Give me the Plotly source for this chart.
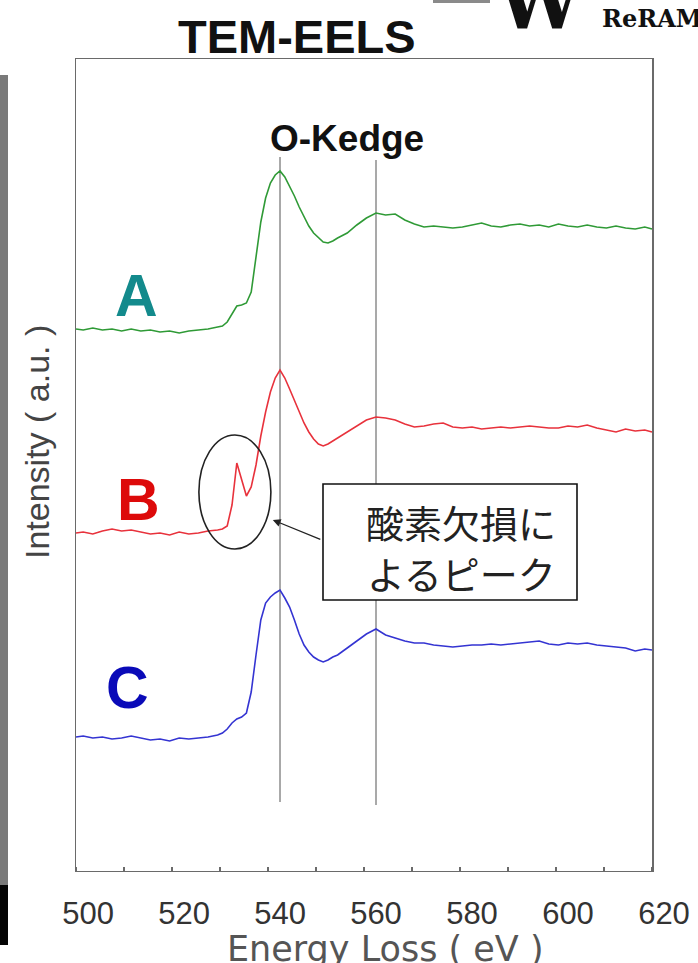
import plotly.graph_objects as go

# ---- spectra (energy loss in eV, intensity in arbitrary units, stacked) ----
energy = [497.5, 499, 501, 503, 505, 507, 509, 511, 513, 515, 517, 519, 521, 523, 525, 527,
          528, 529, 530, 531, 532, 533, 534, 535, 536, 537, 538, 539, 540, 541, 542, 543,
          544, 545, 546, 547, 548, 549, 550, 551, 552,
          554, 556, 558, 560, 562, 564, 566, 568, 570, 572, 574, 576, 578, 580, 582, 584,
          586, 588, 590, 592, 594, 596, 598, 600, 602, 604, 606, 608, 610, 612, 614, 616, 617.5]

intensity_a = [543, 542, 544, 542, 543, 541, 543, 541, 542, 540, 541, 539, 541, 542, 543, 545,
               546, 550, 558, 566, 567, 569, 580, 617, 650, 674, 689, 697, 701, 695, 686, 676,
               665, 655, 646, 639, 634, 630, 629, 631, 634,
               639, 647, 654, 659, 657, 658, 652, 648, 645, 646, 645, 644, 645, 647, 649, 646,
               645, 647, 648, 646, 647, 645, 648, 646, 645, 647, 645, 644, 646, 644, 643, 645, 643]

intensity_b = [339, 340, 338, 341, 343, 341, 342, 340, 338, 339, 337, 340, 338, 339, 341, 342,
               343, 346, 367, 409, 393, 376, 385, 407, 436, 460, 480, 494, 502, 494, 483, 471,
               460, 449, 440, 433, 428, 426, 428, 431, 434,
               440, 446, 452, 455, 454, 452, 448, 445, 446, 448, 449, 445, 444, 445, 443, 444,
               445, 444, 445, 446, 445, 444, 444, 446, 445, 447, 444, 442, 440, 443, 441, 442, 440]

intensity_c = [135, 136, 134, 135, 133, 134, 136, 134, 132, 133, 131, 134, 133, 134, 135, 137,
               139, 143, 149, 153, 155, 159, 180, 217, 252, 269, 275, 279, 282, 274, 265, 252,
               238, 227, 220, 215, 212, 210, 212, 215, 217,
               224, 231, 238, 243, 237, 234, 231, 229, 229, 227, 226, 225, 226, 227, 227, 228,
               227, 228, 229, 230, 231, 228, 227, 229, 228, 229, 227, 226, 225, 224, 221, 223, 222]

sample_names = ["A", "B", "C"]
sample_colors = ["#2f9a36", "#e8323c", "#3434d2"]
label_colors = ["#138a8c", "#dd0a0a", "#0a0ab8"]
label_pos = [(510.2, 576), (510.6, 372), (508.3, 184)]   # (eV, a.u.) of the sample letters

edge_lines = [540, 560]          # O K-edge features
edge_line_span = [(70, 715), (67, 712)]

tick_labels = [500, 520, 540, 560, 580, 600, 620]

callout_lines = ["酸素欠損に", "よるピーク"]

W, H = 698, 963
E_MIN, E_FRAME, E_MAX = 497.29, 617.71, 620.0   # left frame edge, right frame edge, scale end
I_MAX = 814


def px(x):
    return x / W


def py(y):
    return 1 - y / H


fig = go.Figure()

for name, ys, col in zip(sample_names, [intensity_a, intensity_b, intensity_c], sample_colors):
    fig.add_trace(go.Scatter(x=energy, y=ys, mode="lines", name=name,
                             line=dict(color=col, width=1.6), showlegend=False,
                             hoverinfo="skip"))

shapes = []
for e, (y0, y1) in zip(edge_lines, edge_line_span):
    shapes.append(dict(type="line", xref="x", yref="y", x0=e, x1=e, y0=y0, y1=y1,
                       line=dict(color="#707070", width=1.2), layer="below"))

# plot frame
shapes.append(dict(type="rect", xref="x", yref="y", x0=E_MIN, x1=E_FRAME, y0=0, y1=I_MAX,
                   line=dict(color="#6a6a6a", width=2), layer="above"))

# ellipse around the pre-edge peak of B
shapes.append(dict(type="circle", xref="x", yref="y", x0=523.1, x1=538.1, y0=323, y1=437,
                   line=dict(color="#222222", width=1.6)))

# callout box
shapes.append(dict(type="rect", xref="paper", yref="paper",
                   x0=px(323), x1=px(577), y0=py(600), y1=py(484),
                   line=dict(color="#111111", width=1.6), fillcolor="white", layer="above"))

# page-edge strip on the left
shapes.append(dict(type="rect", xref="paper", yref="paper", x0=0, x1=px(8),
                   y0=py(885), y1=py(75), line=dict(width=0), fillcolor="#7a7a7a"))
shapes.append(dict(type="rect", xref="paper", yref="paper", x0=0, x1=px(8),
                   y0=py(945), y1=py(885), line=dict(width=0), fillcolor="#050505"))
# logo bar at the top right
shapes.append(dict(type="rect", xref="paper", yref="paper", x0=px(433), x1=px(490),
                   y0=py(3), y1=1, line=dict(width=0), fillcolor="#8a8a8a"))

annotations = []
for name, (lx, ly), col in zip(sample_names, label_pos, label_colors):
    annotations.append(dict(x=lx, y=ly, xref="x", yref="y", text=f"<b>{name}</b>",
                            xanchor="center", yanchor="middle", showarrow=False,
                            font=dict(family="Liberation Sans", size=59, color=col)))

for line_text, ly in zip(callout_lines, [521, 572]):
    annotations.append(dict(x=px(461), y=py(ly), xref="paper", yref="paper", text=line_text,
                            xanchor="center", yanchor="middle", showarrow=False,
                            font=dict(family="Noto Sans CJK JP", size=38, color="#222222")))

annotations += [
    dict(x=px(347), y=py(139), xref="paper", yref="paper", text="<b>O-Kedge</b>",
         xanchor="center", yanchor="middle", showarrow=False,
         font=dict(family="Liberation Sans", size=37, color="#111111")),
    dict(x=px(297), y=py(37), xref="paper", yref="paper", text="<b>TEM-EELS</b>",
         xanchor="center", yanchor="middle", showarrow=False,
         font=dict(family="Liberation Sans Narrow, Liberation Sans", size=47, color="#111111")),
    dict(x=538.5, y=352, xref="x", yref="y", text="",
         showarrow=True, ax=49, ay=20, axref="pixel", ayref="pixel",
         arrowhead=2, arrowsize=1.2, arrowwidth=1.3, arrowcolor="#222222"),
    dict(x=px(37), y=py(442), xref="paper", yref="paper", text="Intensity ( a.u. )",
         textangle=-90, showarrow=False, xanchor="center", yanchor="middle",
         font=dict(family="Liberation Sans", size=34, color="#444444")),
    dict(x=px(385), y=py(949), xref="paper", yref="paper", text="Energy Loss ( eV )",
         xanchor="center", yanchor="middle", showarrow=False,
         font=dict(family="DejaVu Sans", size=35, color="#555555")),
    dict(x=px(600), y=py(19), xref="paper", yref="paper", text="<b>ReRAM</b>",
         xanchor="left", yanchor="middle", showarrow=False,
         font=dict(family="DejaVu Serif", size=24, color="#111111")),
    dict(x=px(540), y=py(2), xref="paper", yref="paper", text="<b>W</b>",
         xanchor="center", yanchor="middle", showarrow=False,
         font=dict(family="DejaVu Serif", size=76, color="#111111")),
]

fig.update_layout(
    width=W, height=H,
    margin=dict(l=0, r=0, t=0, b=0, autoexpand=False),
    paper_bgcolor="white", plot_bgcolor="white",
    xaxis=dict(domain=[px(75), px(664)], range=[E_MIN, E_MAX], automargin=False,
               showgrid=False, zeroline=False, showline=False,
               tickvals=tick_labels, ticks="", ticklabelstandoff=20,
               tickfont=dict(family="Liberation Sans", size=31, color="#333333"),
               minor=dict(tick0=507.5, dtick=10, ticks="inside", ticklen=5,
                          tickcolor="#6a6a6a", tickwidth=1.5, showgrid=False)),
    yaxis=dict(domain=[py(872), py(58)], range=[0, I_MAX], automargin=False,
               showgrid=False, zeroline=False, showline=False,
               showticklabels=False, ticks=""),
    shapes=shapes,
    annotations=annotations,
)

fig.write_html("out.html")
